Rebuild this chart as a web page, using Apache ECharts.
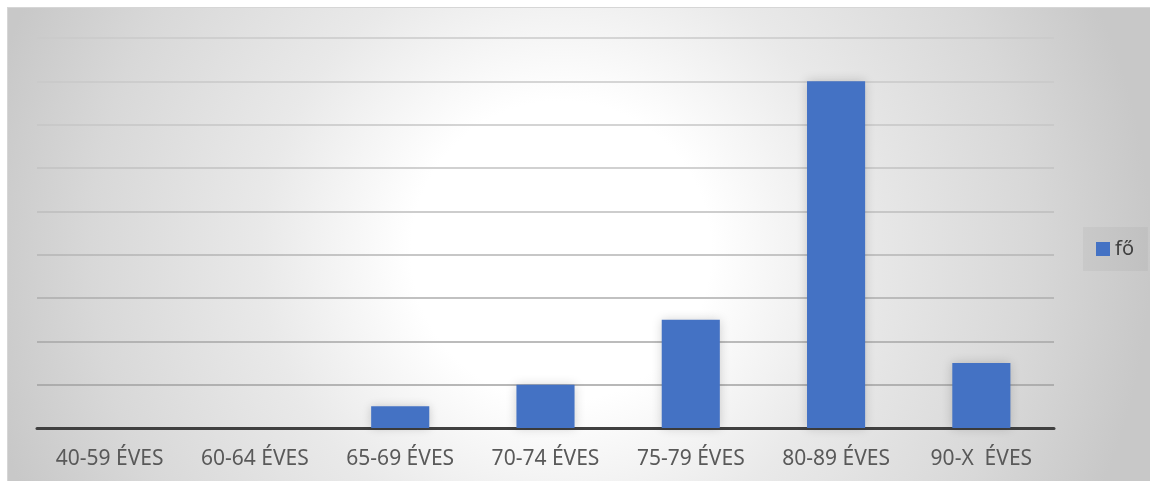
<!DOCTYPE html>
<html>
<head>
<meta charset="utf-8">
<script src="https://cdn.jsdelivr.net/npm/echarts@6/dist/echarts.min.js"></script>
<style>
  html, body { margin: 0; padding: 0; background: #ffffff; }
  #bg {
    position: absolute; left: 7px; top: 7px; width: 1143px; height: 474px;
    border-top: 1px solid #d6d6d6; border-left: 1px solid #d6d6d6;
    box-sizing: border-box;
    background: radial-gradient(circle at 553px 243px, #ffffff 0px, #ffffff 150px, #e9e9e9 300px, #d8d8d8 470px, #c8c8c8 590px);
  }
  #chart { position: absolute; left: 0; top: 0; width: 1150px; height: 481px; }
</style>
</head>
<body>
<div id="bg"></div>
<div id="chart"></div>
<script>
const categories = ['40-59 ÉVES', '60-64 ÉVES', '65-69 ÉVES', '70-74 ÉVES', '75-79 ÉVES', '80-89 ÉVES', '90-X  ÉVES'];
const seriesName = 'fő';
const values = [0, 0, 1, 2, 5, 16, 3];
const yMin = 0, yMax = 18, yInterval = 2;
const gridColors = ['#a0a0a0', '#a0a0a0', '#a6a6a6', '#acacac', '#b4b4b4', '#bcbcbc', '#c2c2c2', '#c6c6c6', '#c8c8c8', '#cacaca'];

const chart = echarts.init(document.getElementById('chart'), null, { renderer: 'canvas' });
chart.setOption({
  backgroundColor: 'transparent',
  animation: false,
  textStyle: { fontFamily: 'Noto Sans' },
  grid: { left: 37, right: 96, top: 38, bottom: 53, containLabel: false },
  legend: {
    data: [seriesName],
    left: 1083, top: 227,
    orient: 'vertical',
    backgroundColor: 'rgba(0,0,0,0.035)',
    padding: [12, 14, 12, 13],
    itemWidth: 14, itemHeight: 14, itemGap: 0,
    icon: 'rect',
    textStyle: { fontSize: 20, color: '#404040', fontFamily: 'Noto Sans' }
  },
  xAxis: {
    type: 'category',
    data: categories,
    axisLine: { show: true, lineStyle: { color: '#404040', width: 3 } },
    axisTick: { show: false },
    axisLabel: { color: '#595959', fontSize: 21, margin: 21, interval: 0, fontFamily: 'Noto Sans' },
    splitLine: { show: false }
  },
  yAxis: {
    type: 'value',
    min: yMin, max: yMax, interval: yInterval,
    axisLabel: { show: false },
    axisLine: { show: false },
    axisTick: { show: false },
    splitLine: { show: true, lineStyle: { color: gridColors, width: 1.5 } }
  },
  series: [{
    name: seriesName,
    type: 'bar',
    data: values,
    barWidth: '40%',
    itemStyle: { color: '#4472c4', shadowBlur: 10, shadowColor: 'rgba(0,0,0,0.18)' }
  }]
});
</script>
</body>
</html>
